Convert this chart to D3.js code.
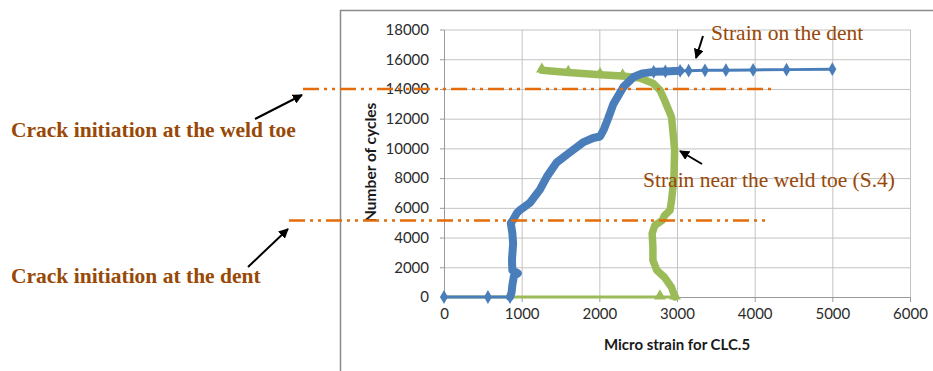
<!DOCTYPE html>
<html>
<head>
<meta charset="utf-8">
<script src="https://cdn.jsdelivr.net/npm/d3@7"></script>
<style>
    body { margin: 0; background: #fff; }
    svg { display: block; }
</style>
</head>
<body>
<svg id="drawing_region"></svg>
<script>
// Strain on the dent (blue series)
const dentStrain = [0, 566, 850, 870, 880, 900, 950, 880, 875, 890, 880, 860, 890, 940, 980, 1107, 1235, 1325, 1450, 1620,
    1790, 1920, 2010, 2060, 2110, 2180, 2310, 2440, 2560, 2700, 2850, 3040, 3150, 3360, 3630, 3980, 4410, 5000];
const dentCycles = [0, 0, 0, 300, 800, 1400, 1600, 1800, 2500, 3600, 4300, 4980, 5200, 5660, 5860, 6340, 7220, 8100, 9050, 9730,
    10400, 10700, 10800, 11300, 11970, 12980, 14135, 14800, 15050, 15150, 15180, 15220, 15230, 15250, 15260, 15280, 15300, 15330];

// Strain near the weld toe (S.4) (green series)
const toeStrain = [0, 2780, 2975, 2930, 2840, 2740, 2690, 2690, 2680, 2715, 2810, 2840, 2910, 2930, 2960, 2970, 2950,
    2930, 2840, 2780, 2690, 2520, 2300, 2010, 1600, 1260];
const toeCycles = [0, 0, 0, 640, 1320, 1800, 2460, 3340, 4280, 4820, 5150, 5490, 5830, 6500, 8000, 9870, 11000,
    12100, 13240, 13920, 14390, 14730, 14870, 14950, 15100, 15260];

// crack initiation levels (cycles)
const crackCycles = [14000, 5150];
const crackLabels = ['Crack initiation at the weld toe', 'Crack initiation at the dent'];

const xTicks = [0, 1000, 2000, 3000, 4000, 5000, 6000];
const yTicks = [0, 2000, 4000, 6000, 8000, 10000, 12000, 14000, 16000, 18000];

class StrainChart {

    constructor( config ) {
        this.config = config;
        this.dent = dentStrain.map( (s, i) => ({ x: s, y: dentCycles[i] }) );
        this.toe = toeStrain.map( (s, i) => ({ x: s, y: toeCycles[i] }) );
        this.init();
    }

    init() {
        let self = this;

        self.svg = d3.select( self.config.parent )
            .attr( 'width', self.config.width )
            .attr( 'height', self.config.height );

        self.xscale = d3.scaleLinear()
            .domain( [0, 6000] )
            .range( [444, 910] );

        self.yscale = d3.scaleLinear()
            .domain( [0, 18000] )
            .range( [297, 29.5] );

        self.line = d3.line()
            .x( d => self.xscale( d.x ) )
            .y( d => self.yscale( d.y ) );
    }

    render() {
        let self = this;
        const grid = '#c3c3c3';

        // chart area frame (left and top edges visible)
        self.svg.append( 'path' )
            .attr( 'd', 'M340.5,371V10.5H933' )
            .attr( 'fill', 'none' )
            .attr( 'stroke', '#8a8a8a' )
            .attr( 'stroke-width', 1.5 );

        // grid
        self.svg.append( 'g' )
            .selectAll( 'line' )
            .data( yTicks.filter( d => d > 0 ) )
            .join( 'line' )
            .attr( 'x1', self.xscale( 0 ) ).attr( 'x2', self.xscale( 6000 ) )
            .attr( 'y1', d => self.yscale( d ) + 0.5 ).attr( 'y2', d => self.yscale( d ) + 0.5 )
            .attr( 'stroke', grid );

        self.svg.append( 'g' )
            .selectAll( 'line' )
            .data( xTicks.filter( d => d > 0 ) )
            .join( 'line' )
            .attr( 'x1', d => self.xscale( d ) + 0.5 ).attr( 'x2', d => self.xscale( d ) + 0.5 )
            .attr( 'y1', self.yscale( 0 ) ).attr( 'y2', self.yscale( 18000 ) )
            .attr( 'stroke', grid );

        // axes
        const fmt = d3.format( 'd' );
        const xaxis = self.svg.append( 'g' )
            .attr( 'transform', `translate(0, ${self.yscale( 0 )})` )
            .call( d3.axisBottom( self.xscale ).tickValues( xTicks ).tickFormat( fmt )
                .tickSize( 5 ).tickPadding( 6 ).tickSizeOuter( 0 ) );

        const yaxis = self.svg.append( 'g' )
            .attr( 'transform', `translate(${self.xscale( 0 )}, 0)` )
            .call( d3.axisLeft( self.yscale ).tickValues( yTicks ).tickFormat( fmt )
                .tickSize( 4 ).tickPadding( 11 ).tickSizeOuter( 0 ) );

        [xaxis, yaxis].forEach( ax => {
            ax.select( '.domain' ).attr( 'stroke', '#9a9a9a' );
            ax.selectAll( '.tick line' ).attr( 'stroke', '#9a9a9a' );
            ax.selectAll( '.tick text' )
                .attr( 'fill', '#2b2b2b' )
                .style( 'font-family', 'Lato, sans-serif' )
                .style( 'font-size', '15px' );
        } );

        // axis titles
        self.svg.append( 'text' )
            .attr( 'x', self.xscale( 3000 ) )
            .attr( 'y', 350 )
            .attr( 'text-anchor', 'middle' )
            .style( 'font-family', 'Lato, sans-serif' )
            .style( 'font-weight', 'bold' )
            .style( 'font-size', '15px' )
            .attr( 'fill', '#1a1a1a' )
            .text( 'Micro strain  for CLC.5' );

        self.svg.append( 'text' )
            .attr( 'transform', `translate(376, ${self.yscale( 9000 ) - 1}) rotate(-90)` )
            .attr( 'text-anchor', 'middle' )
            .style( 'font-family', 'Lato, sans-serif' )
            .style( 'font-weight', 'bold' )
            .style( 'font-size', '15.5px' )
            .attr( 'fill', '#1a1a1a' )
            .text( 'Number of cycles' );

        // green series: thin run along zero, dense thick band upward
        const green = '#9bbb59';
        self.svg.append( 'path' )
            .attr( 'd', self.line( self.toe.slice( 0, 3 ) ) )
            .attr( 'fill', 'none' ).attr( 'stroke', green ).attr( 'stroke-width', 3 );
        self.svg.append( 'path' )
            .attr( 'd', self.line( self.toe.slice( 2 ) ) )
            .attr( 'fill', 'none' ).attr( 'stroke', green )
            .attr( 'stroke-width', 7.5 ).attr( 'stroke-linejoin', 'round' ).attr( 'stroke-linecap', 'round' );
        self.svg.append( 'g' )
            .selectAll( 'path' )
            .data( self.toe.filter( (d, i) => i === 1 || i === 2 || i >= 22 ) )
            .join( 'path' )
            .attr( 'd', d3.symbol( d3.symbolTriangle, 60 ) )
            .attr( 'transform', d => `translate(${self.xscale( d.x )}, ${self.yscale( d.y ) - 1})` )
            .attr( 'fill', green );

        // blue series: thin overall, thick where readings are dense
        const blue = '#4a7ebb';
        const denseEnd = dentStrain.findIndex( s => s >= 3000 );
        self.svg.append( 'path' )
            .attr( 'd', self.line( self.dent ) )
            .attr( 'fill', 'none' ).attr( 'stroke', blue ).attr( 'stroke-width', 3 );
        self.svg.append( 'path' )
            .attr( 'd', self.line( self.dent.slice( 2, denseEnd + 1 ) ) )
            .attr( 'fill', 'none' ).attr( 'stroke', blue )
            .attr( 'stroke-width', 8 ).attr( 'stroke-linejoin', 'round' ).attr( 'stroke-linecap', 'round' );
        self.svg.append( 'g' )
            .selectAll( 'path' )
            .data( self.dent.filter( (d, i) => i < 3 || i >= denseEnd - 2 ) )
            .join( 'path' )
            .attr( 'd', d3.symbol( d3.symbolDiamond, 55 ) )
            .attr( 'transform', d => `translate(${self.xscale( d.x )}, ${self.yscale( d.y )})` )
            .attr( 'fill', blue );

        // crack initiation lines
        const crackStart = [303, 289];
        const crackEnd = [773, 768];
        self.svg.append( 'g' )
            .selectAll( 'line' )
            .data( crackCycles )
            .join( 'line' )
            .attr( 'x1', (d, i) => crackStart[i] ).attr( 'x2', (d, i) => crackEnd[i] )
            .attr( 'y1', d => self.yscale( d ) ).attr( 'y2', d => self.yscale( d ) )
            .attr( 'stroke', '#e46c0a' )
            .attr( 'stroke-width', 2.5 )
            .attr( 'stroke-dasharray', '16,5,3,5,3,5' );

        // arrows
        self.svg.append( 'defs' ).append( 'marker' )
            .attr( 'id', 'arrow' )
            .attr( 'viewBox', '0 0 10 10' )
            .attr( 'refX', 9 ).attr( 'refY', 5 )
            .attr( 'markerWidth', 5 ).attr( 'markerHeight', 5 )
            .attr( 'orient', 'auto' )
            .append( 'path' )
            .attr( 'd', 'M0,0L10,5L0,10Z' )
            .attr( 'fill', '#000' );

        const arrows = [
            [255, 119, 302, 95],
            [248, 267, 288, 229],
            [703, 36, 696, 58],
            [702, 164, 680, 151]
        ];
        self.svg.append( 'g' )
            .selectAll( 'line' )
            .data( arrows )
            .join( 'line' )
            .attr( 'x1', d => d[0] ).attr( 'y1', d => d[1] )
            .attr( 'x2', d => d[2] ).attr( 'y2', d => d[3] )
            .attr( 'stroke', '#000' )
            .attr( 'stroke-width', 2 )
            .attr( 'marker-end', 'url(#arrow)' );

        // labels
        const brown = '#984807';
        self.svg.append( 'g' )
            .selectAll( 'text' )
            .data( crackLabels )
            .join( 'text' )
            .attr( 'x', 11 )
            .attr( 'y', (d, i) => [137, 283][i] )
            .style( 'font-family', '"Liberation Serif", serif' )
            .style( 'font-weight', 'bold' )
            .style( 'font-size', '21.5px' )
            .attr( 'fill', brown )
            .text( d => d );

        self.svg.append( 'text' )
            .attr( 'x', 711 ).attr( 'y', 40 )
            .style( 'font-family', '"Liberation Serif", serif' )
            .style( 'font-size', '21.5px' )
            .attr( 'fill', brown )
            .text( 'Strain on the dent' );

        self.svg.append( 'text' )
            .attr( 'x', 643 ).attr( 'y', 187 )
            .style( 'font-family', '"Liberation Serif", serif' )
            .style( 'font-size', '21.5px' )
            .attr( 'fill', brown )
            .text( 'Strain near the weld toe (S.4)' );
    }
}

const chart = new StrainChart( {
    parent: '#drawing_region',
    width: 933,
    height: 371
} );
chart.render();
</script>
</body>
</html>
